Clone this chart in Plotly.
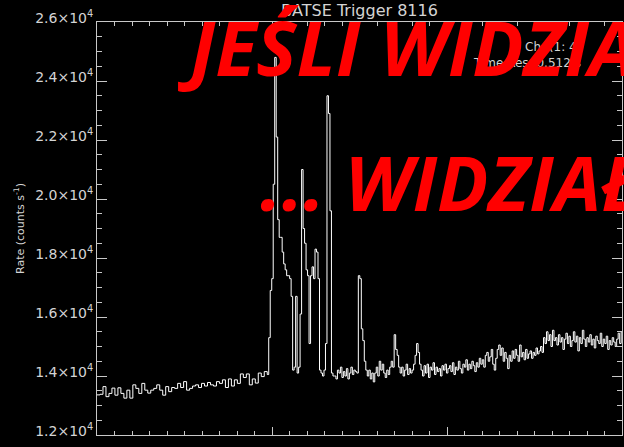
import numpy as np
import plotly.graph_objects as go

# ---------------- data ----------------
chart_title = "BATSE Trigger 8116"
y_title = "Rate (counts s<sup>-1</sup>)"
info_lines = ["Ch: (1: 4)", "Time Res: 0.512 s"]
overlay_line1 = "JEŚLI WIDZIAŁ"
overlay_line2 = "... WIDZIAŁ"

y_tick_vals = [12000, 14000, 16000, 18000, 20000, 22000, 24000, 26000]
y_tick_text = ["1.2×10<sup>4</sup>", "1.4×10<sup>4</sup>", "1.6×10<sup>4</sup>",
               "1.8×10<sup>4</sup>", "2.0×10<sup>4</sup>", "2.2×10<sup>4</sup>",
               "2.4×10<sup>4</sup>", "2.6×10<sup>4</sup>"]

t_start = -30.0          # s, start of the plotted light curve
pre_dt = 0.512           # s, bin width before the burst
post_dt = 0.256          # s, bin width from the burst on

pre_rate = [13360, 13380, 13640, 13300, 13410, 13590, 13350, 13600, 13410, 13250,
            13520, 13250, 13700, 13580, 13410, 13750, 13520, 13420, 13520, 13580,
            13700, 13520, 13350, 13640, 13470, 13610, 13580, 13750, 13610, 13810,
            13520, 13580, 13660, 13700, 13610, 13750, 13660, 13780, 13700, 13660,
            13810, 13750, 13870, 13610, 13900, 13660, 13870, 13750, 14070, 13950,
            14070, 13700, 13900, 13760, 14100, 13980, 14150]

post_rate = [
    # burst
    14050, 15300, 16900, 17300, 20500, 24800, 22100, 19300, 18700, 18700,
    18200, 17800, 17600, 17400, 17400, 17300, 16700, 14200, 14300, 16700,
    14100, 14300, 16100, 21000, 19000, 18500, 17600, 17400, 15100, 17400,
    17700, 17300, 18300, 18200, 17300, 14200, 14100, 14000, 14200, 15100,
    23500, 22900, 19600, 14100, 14000,
    # early tail
    14000, 13900, 14200, 14100, 14300, 13950, 14150, 14000, 14250, 13900,
    14100, 14300, 14050, 14200, 14150, 14100,
    17400, 17300, 15600, 15200, 14500, 14200,
    14000, 14200, 13900, 14100, 13800, 14100, 14300, 14000, 14500, 14200,
    14400, 14100, 13950, 14200, 14050, 14300, 14500,
    14300, 15400, 14900, 14700, 14300,
    14100, 14300, 14000, 14200, 14400, 14050, 14250, 14100,
    14200, 14400, 14700, 15100, 14800, 14400,
    # slowly rising background
    14200, 14000, 14350, 14100, 14400, 13950, 14300, 14200, 14450, 14050,
    14300, 14150, 14250, 14000, 14350, 14200, 14400, 14100, 14250, 14350,
    14150, 14450, 14050, 14300, 14200, 14500, 14250, 14100, 14400, 14300,
    14550, 14200, 14400, 14250, 14500, 14350, 14150, 14450, 14300, 14600,
    14400, 14550, 14300, 14700,
    14800, 14500, 14650, 14900, 14400, 14200, 14600, 14900, 15050, 14700,
    14950, 14500, 14800, 14600, 14250, 14700, 14500, 14850, 14600, 14900,
    14700, 14500, 15050, 14650, 14800, 14550, 14900, 14600, 14750, 14850,
    14600, 14800, 14700, 14950, 14750, 14850, 15000, 14800,
    15300, 15100, 15500, 15200, 15400, 15000, 15550, 15200, 15300, 15050,
    15400, 15150, 15300, 14900, 15250, 15450, 15100, 15350, 15000, 15200,
    15500, 15150, 15350, 14850, 15300, 15100, 15550, 15250, 15000, 15300,
    15150, 15400, 15050, 15250, 14950, 15350, 15200, 15100, 15450, 15000,
    15250, 15100, 15350, 14900, 15200, 15050, 15300, 15150, 15000, 15250,
    15450, 15100, 15500, 15350]

# ---------------- build bin start times ----------------
pre_t = t_start + pre_dt * np.arange(len(pre_rate))
post_t0 = t_start + pre_dt * len(pre_rate)
post_t = post_t0 + post_dt * np.arange(len(post_rate))
t_end = post_t0 + post_dt * len(post_rate)
times = np.concatenate([pre_t, post_t, [t_end]])
rates = pre_rate + post_rate + [post_rate[-1]]

AX = "#c8c8c8"
TXT = "#d4d4d4"

fig = go.Figure()
fig.add_trace(go.Scatter(x=times, y=rates, mode="lines",
                         line=dict(color="white", width=1, shape="hv"),
                         hoverinfo="skip", showlegend=False))

fig.update_layout(
    width=624, height=447,
    paper_bgcolor="black", plot_bgcolor="black",
    margin=dict(l=97, r=2, t=22, b=12, autoexpand=False),
    font=dict(family="DejaVu Sans", color=TXT, size=13),
    title=dict(text=chart_title, x=0.5, xref="paper", xanchor="center",
               y=1 - 10 / 447, yanchor="middle", automargin=False,
               font=dict(family="DejaVu Sans", size=16, color=TXT)),
    xaxis=dict(range=[-30, 60], tick0=0, dtick=30, ticks="inside", ticklen=8,
               tickcolor=AX, showticklabels=False, showline=True, linecolor=AX,
               linewidth=1, mirror="ticks", showgrid=False, zeroline=False,
               automargin=False,
               minor=dict(ticks="inside", ticklen=4, dtick=3, tick0=0,
                          tickcolor=AX, showgrid=False)),
    yaxis=dict(range=[12000, 26000], tickvals=y_tick_vals, ticktext=y_tick_text,
               ticks="inside", ticklen=10, tickcolor=AX, showline=True,
               linecolor=AX, linewidth=1, mirror="ticks", showgrid=False,
               zeroline=False, ticklabelshift=-4, automargin=False,
               tickfont=dict(family="DejaVu Sans", size=14, color=TXT),
               minor=dict(ticks="inside", ticklen=5, dtick=500, tick0=12000,
                          tickcolor=AX, showgrid=False),
               title=dict(text=y_title, standoff=8,
                          font=dict(family="DejaVu Sans", size=11, color=TXT))),
)

def px(X):
    return (X - 97) / 525

def py(Y):
    return (435 - Y) / 413

# small info text in the upper right
fig.add_annotation(text=info_lines[0], xref="paper", yref="paper",
                   x=px(583), y=py(47), xanchor="right", yanchor="middle",
                   showarrow=False, font=dict(family="DejaVu Sans", size=12, color=TXT))
fig.add_annotation(text=info_lines[1], xref="paper", yref="paper",
                   x=px(583), y=py(63), xanchor="right", yanchor="middle",
                   showarrow=False, font=dict(family="DejaVu Sans", size=12, color=TXT))

red_font = dict(family="Open Sans", size=76, color="#ff0000", weight="bold", style="italic")
fig.add_annotation(text=overlay_line1, xref="paper", yref="paper",
                   x=px(176), y=py(46), xanchor="left", yanchor="middle",
                   showarrow=False, font=red_font)
fig.add_annotation(text=overlay_line2, xref="paper", yref="paper",
                   x=px(258), y=py(181), xanchor="left", yanchor="middle",
                   showarrow=False, font=red_font)

fig.write_html("out.html", config={"displayModeBar": False},
               post_script="document.body.style.margin='0px';document.body.style.padding='0px';")
